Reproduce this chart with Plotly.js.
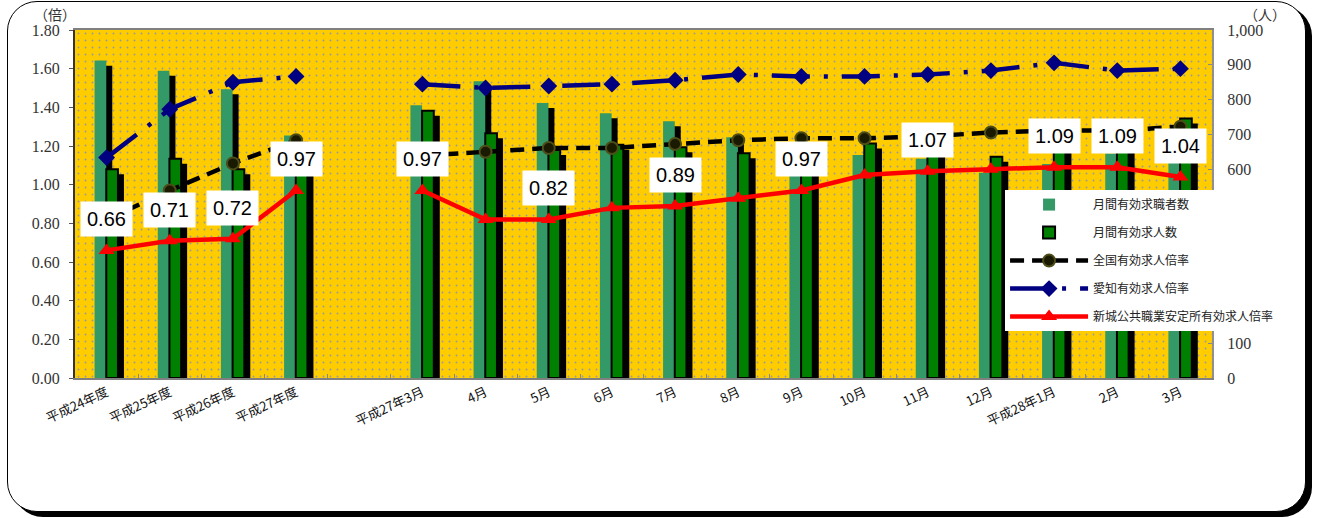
<!DOCTYPE html>
<html>
<head>
<meta charset="utf-8">
<script src="https://cdn.plot.ly/plotly-3.0.1.min.js"></script>
<style>
  html, body { margin: 0; padding: 0; background: #fff; }
  #frame { position: absolute; left: 7px; top: 1px; width: 1299px; height: 511px; box-sizing: border-box;
           border: 1.5px solid #000; border-radius: 30px; box-shadow: 6px 5px 0 #000; background: #fff; }
  #chart { position: absolute; left: 0; top: 0; width: 1319px; height: 518px; }
</style>
</head>
<body>
<div id="frame"></div>
<div id="chart"></div>
<script>
// ---- data ----
const categories = ['平成24年度','平成25年度','平成26年度','平成27年度',' ','平成27年3月','4月','5月','6月','7月','8月','9月','10月','11月','12月','平成28年1月','2月','3月'];
const seekers   = [912, 883, 830, 697, null, 784, 853, 790, 761, 738, 692, 620, 641, 630, 590, 615, 645, 717];   // 月間有効求職者数
const openings  = [600, 630, 600, 676, null, 768, 703, 655, 670, 663, 646, 601, 674, 674, 636, 670, 703, 746];   // 月間有効求人数
const zenkoku   = [0.82, 0.97, 1.11, 1.23, null, 1.15, 1.17, 1.19, 1.19, 1.21, 1.23, 1.24, 1.24, 1.25, 1.27, 1.28, 1.28, 1.30];
const aichi     = [1.14, 1.39, 1.53, 1.56, null, 1.52, 1.50, 1.51, 1.52, 1.54, 1.57, 1.56, 1.56, 1.57, 1.59, 1.63, 1.59, 1.60];
const shinshiro = [0.66, 0.71, 0.72, 0.97, null, 0.97, 0.82, 0.82, 0.88, 0.89, 0.93, 0.97, 1.05, 1.07, 1.08, 1.09, 1.09, 1.04];
const shinshiroLabelShown = [true, true, true, true, false, true, false, true, false, true, false, true, false, true, false, true, true, true];
const seriesNames = ['月間有効求職者数','月間有効求人数','全国有効求人倍率','愛知有効求人倍率','新城公共職業安定所有効求人倍率'];
const leftUnit = '（倍）';
const rightUnit = '（人）';

// ---- style ----
const BW = 0.185, SHX = 0.095;
const jp = '"Noto Sans CJK JP", "Noto Sans", sans-serif';
const serif = '"Liberation Serif", "DejaVu Serif", serif';

const traces = [
  // shadows (drawn first, on shifted base axis)
  {type:'bar', x:categories, y:seekers, yaxis:'y', offset:-0.19+SHX, width:BW,
   marker:{color:'#000'}, showlegend:false, hoverinfo:'skip'},
  {type:'bar', x:categories, y:openings, yaxis:'y', offset:-0.005+SHX, width:BW,
   marker:{color:'#000'}, showlegend:false, hoverinfo:'skip'},
  // bars
  {type:'bar', name:seriesNames[0], legendgroup:'a', x:categories, y:seekers, yaxis:'y2', offset:-0.19, width:BW,
   marker:{color:'#339966'}},
  {type:'bar', name:seriesNames[1], legendgroup:'b', x:categories, y:openings, yaxis:'y2', offset:-0.005, width:BW,
   marker:{color:'#008000', line:{color:'#000', width:2}}},
  // lines
  {type:'scatter', mode:'lines+markers', name:seriesNames[2], legendgroup:'c', x:categories, y:zenkoku, yaxis:'y3',
   line:{color:'#000', width:4.5, dash:'14px,8px'},
   marker:{symbol:'circle', size:12, color:'#1a1a00', line:{color:'#4d4d1a', width:2}}},
  {type:'scatter', mode:'lines+markers', name:seriesNames[3], legendgroup:'d', x:categories, y:aichi, yaxis:'y3',
   line:{color:'#000080', width:4.5, dash:'38px,14px,4px,14px'},
   marker:{symbol:'diamond', size:13, color:'#000080'}},
  {type:'scatter', mode:'lines+markers', name:seriesNames[4], legendgroup:'e', x:categories, y:shinshiro, yaxis:'y3',
   line:{color:'#ff0000', width:4.5},
   marker:{symbol:'triangle-up', size:14, color:'#ff0000'}}
];

const annotations = [];
categories.forEach((c, i) => {
  if (shinshiroLabelShown[i] && shinshiro[i] != null) {
    annotations.push({x:c, y:shinshiro[i], xref:'x', yref:'y3', text:shinshiro[i].toFixed(2), showarrow:false,
      yshift:31, bgcolor:'#fff', borderpad:6, font:{family:'"Liberation Sans", Arial, sans-serif', size:20, color:'#000'}});
  }
});
annotations.push({xref:'paper', yref:'paper', x:-0.0175, y:1.046, xanchor:'center', yanchor:'middle', text:leftUnit, showarrow:false,
  font:{family:jp, size:14, color:'#333'}});
annotations.push({xref:'paper', yref:'paper', x:1.0466, y:1.046, xanchor:'center', yanchor:'middle', text:rightUnit, showarrow:false,
  font:{family:jp, size:14, color:'#333'}});

// dotted background pattern
const PW = 1137, PH = 348;
const svg = `<svg xmlns="http://www.w3.org/2000/svg" width="${PW}" height="${PH}" viewBox="0 0 ${PW} ${PH}" preserveAspectRatio="none">` +
  `<defs><pattern id="p" width="7" height="7" patternUnits="userSpaceOnUse"><circle cx="3.5" cy="3.5" r="1" fill="#9a9a9a"/></pattern></defs>` +
  `<rect width="${PW}" height="${PH}" fill="url(#p)"/></svg>`;
const bgImg = 'data:image/svg+xml;charset=utf-8,' + encodeURIComponent(svg);

const layout = {
  width:1319, height:518,
  margin:{l:75, r:107, t:30, b:140},
  paper_bgcolor:'rgba(0,0,0,0)',
  plot_bgcolor:'#FFCC00',
  barmode:'overlay',
  showlegend:true,
  legend:{x:0.818, y:0.540, xanchor:'left', yanchor:'top', bgcolor:'#fff', borderwidth:0,
    font:{family:jp, size:12, color:'#222'}, itemwidth:78, traceorder:'grouped', tracegroupgap:9,
    entrywidth:233},
  xaxis:{type:'category', categoryorder:'array', categoryarray:categories, range:[-0.5, 17.5],
    tickangle:-25, tickfont:{family:jp, size:13, color:'#111'},
    ticks:'inside', tickson:'boundaries', ticklen:4, tickcolor:'#888',
    showline:true, linecolor:'#808080', linewidth:2, mirror:true, showgrid:false, zeroline:false},
  yaxis:{range:[14.4, 1014.4], visible:false, showgrid:false, zeroline:false},
  yaxis2:{overlaying:'y', side:'right', range:[0, 1000], dtick:100, tickformat:',d',
    tickfont:{family:serif, size:16, color:'#333'}, ticks:'inside', ticklen:4, tickcolor:'#888',
    showline:true, linecolor:'#909090', linewidth:2, showgrid:false, zeroline:false, ticklabelstandoff:10},
  yaxis3:{overlaying:'y', side:'left', range:[0, 1.8], dtick:0.2, tickformat:'.2f',
    tickfont:{family:serif, size:16, color:'#333'}, ticks:'outside', ticklen:4, tickcolor:'#555',
    showline:true, linecolor:'#333', linewidth:2, showgrid:false, zeroline:false, ticklabelstandoff:6},
  images:[{source:bgImg, xref:'paper', yref:'paper', x:0, y:1, sizex:1, sizey:1,
    xanchor:'left', yanchor:'top', sizing:'stretch', layer:'below'}],
  annotations:annotations
};

Plotly.newPlot('chart', traces, layout, {displayModeBar:false, staticPlot:true});
</script>
</body>
</html>
